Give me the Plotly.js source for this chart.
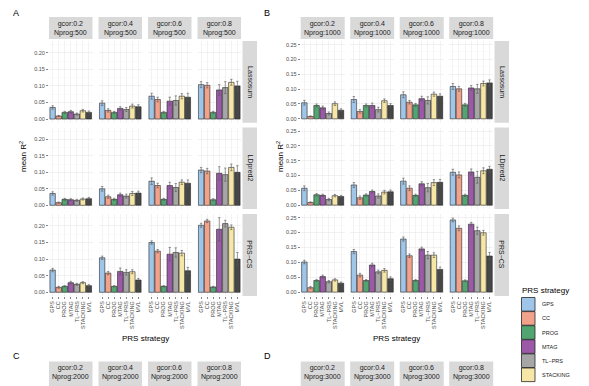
<!DOCTYPE html>
<html><head><meta charset="utf-8">
<script src="https://cdn.plot.ly/plotly-3.0.1.min.js"></script>
<style>html,body{margin:0;padding:0;background:#fff;} #chart{width:589px;height:386px;}</style>
</head><body><div id="chart"></div>
<script>
const strategies = ["GPS","CC","PROG","MTAG","TL−PRS","STACKING","MVL"];
const strategyColors = ["#9FC5E8","#F2A28A","#52A571","#9B59A8","#A6A6A6","#F7E7A6","#474747"];
const gcorLevels = ["0.2","0.4","0.6","0.8"];
const methods = ["Lassosum","LDpred2","PRS−CS"];
const nprogA = 500, nprogB = 1000, nprogC = 2000, nprogD = 3000;

// Panel A (Nprog 500): rows = gcor 0.2, 0.4, 0.6, 0.8 ; columns = strategies
const A_lassosum = [
  [0.035,0.009,0.020,0.022,0.015,0.025,0.020],
  [0.048,0.026,0.020,0.032,0.029,0.039,0.037],
  [0.069,0.059,0.020,0.054,0.056,0.069,0.066],
  [0.104,0.102,0.020,0.088,0.095,0.111,0.100]];
const A_lassosum_se = [
  [0.005,0.002,0.003,0.004,0.003,0.004,0.004],
  [0.007,0.005,0.003,0.005,0.006,0.006,0.006],
  [0.009,0.007,0.003,0.012,0.014,0.008,0.012],
  [0.009,0.008,0.003,0.016,0.018,0.009,0.014]];
const A_ldpred2 = [
  [0.036,0.008,0.018,0.017,0.015,0.019,0.020],
  [0.050,0.026,0.018,0.032,0.028,0.036,0.037],
  [0.073,0.060,0.018,0.060,0.054,0.070,0.067],
  [0.107,0.104,0.017,0.097,0.093,0.115,0.100]];
const A_ldpred2_se = [
  [0.005,0.002,0.003,0.003,0.003,0.003,0.004],
  [0.007,0.005,0.003,0.005,0.006,0.006,0.006],
  [0.010,0.007,0.003,0.010,0.012,0.007,0.010],
  [0.008,0.008,0.003,0.020,0.020,0.010,0.020]];
const A_prscs = [
  [0.067,0.015,0.018,0.029,0.024,0.029,0.020],
  [0.104,0.058,0.018,0.063,0.060,0.062,0.037],
  [0.150,0.124,0.018,0.115,0.120,0.118,0.065],
  [0.202,0.215,0.016,0.190,0.207,0.196,0.100]];
const A_prscs_se = [
  [0.005,0.003,0.002,0.004,0.003,0.003,0.003],
  [0.005,0.005,0.002,0.010,0.008,0.006,0.005],
  [0.005,0.005,0.002,0.020,0.014,0.008,0.010],
  [0.006,0.005,0.002,0.035,0.010,0.007,0.020]];

// Panel B (Nprog 1000)
const B_lassosum = [
  [0.054,0.008,0.045,0.037,0.018,0.051,0.029],
  [0.065,0.025,0.045,0.045,0.031,0.061,0.045],
  [0.081,0.056,0.047,0.068,0.062,0.083,0.076],
  [0.109,0.101,0.047,0.104,0.101,0.119,0.121]];
const B_lassosum_se = [
  [0.008,0.002,0.005,0.006,0.005,0.006,0.005],
  [0.010,0.006,0.005,0.008,0.008,0.006,0.006],
  [0.010,0.006,0.005,0.008,0.012,0.007,0.008],
  [0.010,0.008,0.005,0.008,0.015,0.008,0.010]];
const B_ldpred2 = [
  [0.057,0.009,0.035,0.033,0.019,0.032,0.029],
  [0.068,0.025,0.034,0.046,0.031,0.044,0.045],
  [0.081,0.057,0.033,0.072,0.059,0.076,0.077],
  [0.111,0.102,0.033,0.112,0.094,0.116,0.121]];
const B_ldpred2_se = [
  [0.008,0.002,0.004,0.004,0.004,0.004,0.004],
  [0.008,0.006,0.004,0.005,0.007,0.006,0.006],
  [0.010,0.008,0.004,0.007,0.014,0.010,0.010],
  [0.010,0.010,0.004,0.010,0.020,0.010,0.010]];
const B_prscs = [
  [0.101,0.015,0.039,0.052,0.035,0.041,0.030],
  [0.136,0.057,0.039,0.091,0.068,0.073,0.045],
  [0.178,0.122,0.039,0.145,0.124,0.124,0.076],
  [0.242,0.214,0.038,0.228,0.206,0.199,0.121]];
const B_prscs_se = [
  [0.006,0.004,0.003,0.005,0.004,0.004,0.004],
  [0.007,0.006,0.003,0.006,0.006,0.006,0.006],
  [0.007,0.006,0.003,0.006,0.012,0.008,0.008],
  [0.006,0.008,0.003,0.006,0.012,0.008,0.012]];

const W = 589, H = 386;
const px = v => v / W;
const py = v => 1 - v / H;

const groups = [
  {label:"A", nprog:nprogA, vals:[A_lassosum,A_ldpred2,A_prscs], se:[A_lassosum_se,A_ldpred2_se,A_prscs_se],
   cols:[49,98.5,148,197.5], w:43.5, range:[-0.0112,0.236], ticks:[0,0.05,0.10,0.15,0.20],
   stripX:242.5, stripW:14.5, labelX:16, titleX:23},
  {label:"B", nprog:nprogB, vals:[B_lassosum,B_ldpred2,B_prscs], se:[B_lassosum_se,B_ldpred2_se,B_prscs_se],
   cols:[300.7,350.2,399.7,449.2], w:44, range:[-0.013,0.262], ticks:[0,0.05,0.10,0.15,0.20,0.25],
   stripX:494.5, stripW:14.5, labelX:267, titleX:280}
];
const rows = [[41,122.7],[127.5,209],[214,296]];

const traces = [];
const layout = {
  width: W, height: H, margin:{l:0,r:0,t:0,b:0},
  paper_bgcolor:"#fff", plot_bgcolor:"#fff",
  showlegend:false, bargap:0.1,
  font:{family:"Liberation Sans, Arial, sans-serif", color:"#1A1A1A"},
  shapes:[], annotations:[]
};
const stripFill = "#D9D9D9";
const stripFont = {size:7, color:"#1A1A1A", family:"Liberation Sans, Arial, sans-serif"};

groups.forEach((g, gi) => {
  for (let r = 0; r < 3; r++) {
    for (let c = 0; c < 4; c++) {
      const idx = gi*12 + r*4 + c + 1;
      const xa = idx === 1 ? "x" : "x" + idx;
      const ya = idx === 1 ? "y" : "y" + idx;
      traces.push({
        type:"bar", x: strategies, y: g.vals[r][c], xaxis: xa, yaxis: ya,
        marker:{color: strategyColors, line:{color:"#262626", width:0.6}},
        error_y:{type:"data", array: g.se[r][c], color:"#595959", thickness:0.6, width:1.2},
        hoverinfo:"x+y"
      });
      const x0 = g.cols[c], x1 = g.cols[c] + g.w;
      layout["xaxis" + (idx === 1 ? "" : idx)] = {
        domain:[px(x0), px(x1)], anchor: ya, type:"category", categoryarray: strategies,
        range:[-0.6, 6.6], showgrid:true, gridcolor:"#EBEBEB", gridwidth:0.6, zeroline:false,
        tickmode:"array", tickvals: strategies, ticktext: strategies,
        showline:false, showticklabels: r === 2, tickangle:-90,
        ticks: r === 2 ? "outside" : "", ticklen:2, tickwidth:0.6, tickcolor:"#333333",
        tickfont:{size:5.5, color:"#4D4D4D"}, fixedrange:true
      };
      layout["yaxis" + (idx === 1 ? "" : idx)] = {
        domain:[py(rows[r][1]), py(rows[r][0])], anchor: xa, range: g.range,
        tickvals: g.ticks, tickformat:".2f", showgrid:true, gridcolor:"#EBEBEB", gridwidth:0.6,
        minor:{dtick:0.025, tick0:0, showgrid:true, gridcolor:"#F5F5F5", gridwidth:0.4},
        zeroline:false, showline:false, showticklabels: c === 0,
        ticks: c === 0 ? "outside" : "", ticklen:2, tickwidth:0.6, tickcolor:"#333333",
        tickfont:{size:5.5, color:"#4D4D4D"}, fixedrange:true
      };
    }
    // right strip
    layout.shapes.push({type:"rect", xref:"paper", yref:"paper",
      x0:px(g.stripX), x1:px(g.stripX+g.stripW), y0:py(rows[r][1]), y1:py(rows[r][0]),
      fillcolor:stripFill, line:{width:0}, layer:"below"});
    layout.annotations.push({xref:"paper", yref:"paper", x:px(g.stripX+g.stripW/2),
      y:py((rows[r][0]+rows[r][1])/2), text:methods[r], textangle:90, showarrow:false,
      xanchor:"center", yanchor:"middle", font:stripFont});
  }
  // top strips
  for (let c = 0; c < 4; c++) {
    const x0 = g.cols[c], x1 = g.cols[c] + g.w;
    layout.shapes.push({type:"rect", xref:"paper", yref:"paper",
      x0:px(x0), x1:px(x1), y0:py(39), y1:py(17), fillcolor:stripFill, line:{width:0}, layer:"below"});
    layout.annotations.push({xref:"paper", yref:"paper", x:px((x0+x1)/2), y:py(28.5),
      text:"gcor:" + gcorLevels[c] + "<br>Nprog:" + g.nprog, showarrow:false,
      xanchor:"center", yanchor:"middle", font:stripFont});
  }
  // panel letter
  layout.annotations.push({xref:"paper", yref:"paper", x:px(g.labelX), y:py(13), text:g.label,
    showarrow:false, xanchor:"center", yanchor:"middle", font:{size:9, color:"#000"}});
  // y title
  layout.annotations.push({xref:"paper", yref:"paper", x:px(g.titleX), y:py(157),
    text:"mean R<sup>2</sup>", textangle:-90, showarrow:false, xanchor:"center", yanchor:"middle",
    font:{size:8, color:"#000"}});
  // x title
  layout.annotations.push({xref:"paper", yref:"paper", x:px((g.cols[0]+g.cols[3]+g.w)/2), y:py(338),
    text:"PRS strategy", showarrow:false, xanchor:"center", yanchor:"middle", font:{size:8, color:"#000"}});
});

// C and D headers (cut off at bottom)
const lower = [
  {label:"C", nprog:nprogC, cols:groups[0].cols, w:groups[0].w, labelX:16},
  {label:"D", nprog:nprogD, cols:groups[1].cols, w:groups[1].w, labelX:267}
];
lower.forEach(g => {
  layout.annotations.push({xref:"paper", yref:"paper", x:px(g.labelX), y:py(356), text:g.label,
    showarrow:false, xanchor:"center", yanchor:"middle", font:{size:9, color:"#000"}});
  for (let c = 0; c < 4; c++) {
    const x0 = g.cols[c], x1 = g.cols[c] + g.w;
    layout.shapes.push({type:"rect", xref:"paper", yref:"paper",
      x0:px(x0), x1:px(x1), y0:py(386), y1:py(361.5), fillcolor:stripFill, line:{width:0}, layer:"below"});
    layout.annotations.push({xref:"paper", yref:"paper", x:px((x0+x1)/2), y:py(372.5),
      text:"gcor:" + gcorLevels[c] + "<br>Nprog:" + g.nprog, showarrow:false,
      xanchor:"center", yanchor:"middle", font:stripFont});
  }
});

// Legend (entries falling below the visible canvas are not drawn)
layout.annotations.push({xref:"paper", yref:"paper", x:px(520), y:py(290), text:"PRS strategy",
  showarrow:false, xanchor:"left", yanchor:"middle", font:{size:8, color:"#000"}});
strategies.forEach((s, i) => {
  const y0 = 297.5 + i*14.1, y1 = y0 + 13.6;
  if (y0 > H - 6) return;
  layout.shapes.push({type:"rect", xref:"paper", yref:"paper", x0:px(521.5), x1:px(535),
    y0:py(y1), y1:py(y0), fillcolor:strategyColors[i], line:{color:"#262626", width:0.8}});
  layout.annotations.push({xref:"paper", yref:"paper", x:px(539.5), y:py((y0+y1)/2), text:s,
    showarrow:false, xanchor:"left", yanchor:"middle", font:{size:5.5, color:"#1A1A1A"}});
});

Plotly.newPlot("chart", traces, layout, {displayModeBar:false, staticPlot:true});
</script>
</body></html>
